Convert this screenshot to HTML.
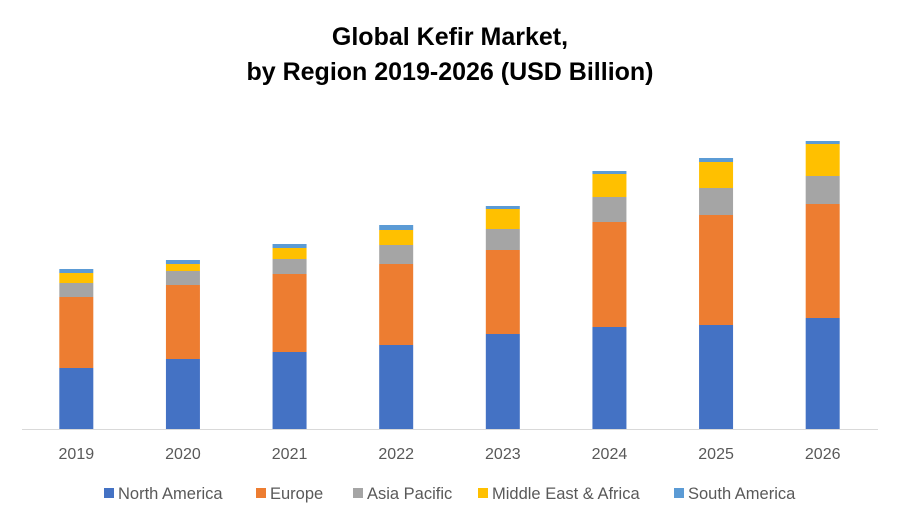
<!DOCTYPE html>
<html><head><meta charset="utf-8"><style>
body{margin:0;background:#fff;font-family:"Liberation Sans",sans-serif;}
svg{display:block}
</style></head><body>
<svg id="chart" width="900" height="525">
<text x="450" y="45" text-anchor="middle" font-size="25" font-weight="bold" fill="#000">Global Kefir Market,</text>
<text x="450" y="80" text-anchor="middle" font-size="25" font-weight="bold" fill="#000">by Region 2019-2026 (USD Billion)</text>
<g id="bars"></g>
<line x1="22" y1="429.5" x2="878" y2="429.5" stroke="#d9d9d9" stroke-width="1"/>
<g id="xlabels"></g>
<g id="legend"></g>
</svg>
<script>
const categories=["2019","2020","2021","2022","2023","2024","2025","2026"];
const seriesNames=["North America","Europe","Asia Pacific","Middle East & Africa","South America"];
const northAmerica=[0.61,0.70,0.77,0.84,0.95,1.02,1.04,1.11];
const europe=[0.71,0.74,0.78,0.81,0.84,1.05,1.10,1.14];
const asiaPacific=[0.14,0.14,0.15,0.19,0.21,0.25,0.27,0.28];
const mea=[0.10,0.07,0.11,0.15,0.20,0.23,0.26,0.32];
const southAmerica=[0.04,0.04,0.04,0.05,0.03,0.03,0.04,0.03];
const colors=["#4472c4","#ed7d31","#a5a5a5","#ffc000","#5b9bd5"];
const series=[northAmerica,europe,asiaPacific,mea,southAmerica];
const NS="http://www.w3.org/2000/svg";
const base=429, pxPer=100, left=23, band=(876-23)/categories.length, bw=34;
const xC=i=>left+band*(i+0.5);
const yS=v=>v*pxPer;
const bars=document.getElementById('bars');
categories.forEach((c,i)=>{
  let acc=0;
  series.forEach((s,k)=>{
    const h=yS(s[i]);
    const r=document.createElementNS(NS,'rect');
    r.setAttribute('x',xC(i)-bw/2);r.setAttribute('y',base-yS(acc)-h);
    r.setAttribute('width',bw);r.setAttribute('height',h);r.setAttribute('fill',colors[k]);
    
    
    bars.appendChild(r);acc+=s[i];
  });
  const t=document.createElementNS(NS,'text');
  t.setAttribute('x',xC(i));t.setAttribute('y',459);t.setAttribute('text-anchor','middle');
  t.setAttribute('font-size','16');t.setAttribute('fill','#595959');t.textContent=c;
  
  
  document.getElementById('xlabels').appendChild(t);
});
const lg=document.getElementById('legend');
const lx=[104,256,353,478,674];
seriesNames.forEach((n,k)=>{
  const g=document.createElementNS(NS,'g');
  
  
  const r=document.createElementNS(NS,'rect');
  r.setAttribute('x',lx[k]);r.setAttribute('y',488);r.setAttribute('width',10);r.setAttribute('height',10);r.setAttribute('fill',colors[k]);
  const t=document.createElementNS(NS,'text');
  t.setAttribute('x',lx[k]+14);t.setAttribute('y',499);t.setAttribute('font-size','16.5');t.setAttribute('fill','#595959');t.textContent=n;
  g.appendChild(r);g.appendChild(t);lg.appendChild(g);
});
</script>
</body></html>
